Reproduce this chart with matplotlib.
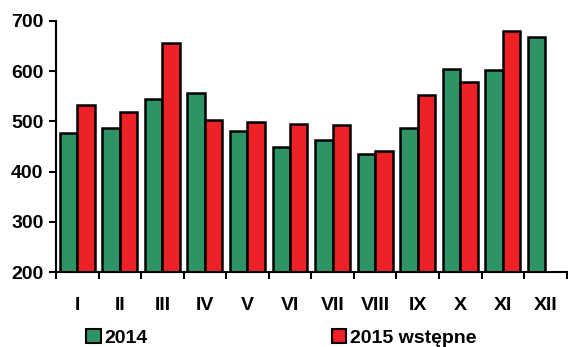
import matplotlib
matplotlib.use("Agg")
import matplotlib.pyplot as plt
import numpy as np
from matplotlib.patches import Patch

months = ["I", "II", "III", "IV", "V", "VI", "VII", "VIII", "IX", "X", "XI", "XII"]
v2014 = [477, 487, 544, 557, 480, 450, 463, 436, 486, 605, 602, 669]
v2015 = [533, 518, 656, 503, 498, 494, 493, 441, 553, 578, 680]
yticks = [200, 300, 400, 500, 600, 700]

green = "#2e9466"
red = "#ed2227"

plt.rcParams["font.family"] = ["Liberation Sans", "DejaVu Sans"]
plt.rcParams["font.weight"] = "bold"

fig = plt.figure(figsize=(5.68, 3.47), dpi=100)
ax = fig.add_axes([0.0986, 0.216, 0.899, 0.7235])

x = np.arange(len(months))
w = 0.41
ax.bar(x[:len(v2014)] - w / 2, np.array(v2014) - 200, bottom=200, width=w,
       color=green, edgecolor="black", linewidth=1.8, zorder=2)
ax.bar(x[:len(v2015)] + w / 2, np.array(v2015) - 200, bottom=200, width=w,
       color=red, edgecolor="black", linewidth=1.8, zorder=2)

ax.set_xlim(-0.5, len(months) - 0.5)
ax.set_ylim(200, 700)
ax.set_yticks(yticks)
ax.set_yticklabels([str(t) for t in yticks], fontsize=14, fontweight="bold")
ax.set_xticks(x)
ax.set_xticklabels(months, fontsize=14, fontweight="bold")
ax.set_xticks(np.arange(-0.5, len(months), 1.0), minor=True)
ax.tick_params(axis="x", which="major", length=0, pad=18)
ax.tick_params(axis="x", which="minor", length=5, width=1.5, direction="out")
ax.tick_params(axis="y", length=5, width=1.5, pad=4)

for s in ["top", "right"]:
    ax.spines[s].set_visible(False)
for s in ["left", "bottom"]:
    ax.spines[s].set_linewidth(1.5)

h1 = Patch(facecolor=green, edgecolor="black", linewidth=1.5)
h2 = Patch(facecolor=red, edgecolor="black", linewidth=1.5)
leg1 = fig.legend([h1], ["2014"], loc="center left", bbox_to_anchor=(0.152, 0.027),
                  frameon=False, prop={"size": 14, "weight": "bold"},
                  handlelength=0.75, handleheight=0.75, handletextpad=0.2,
                  borderpad=0, borderaxespad=0)
leg2 = fig.legend([h2], ["2015 wstępne"], loc="center left", bbox_to_anchor=(0.584, 0.027),
                  frameon=False, prop={"size": 14, "weight": "bold"},
                  handlelength=0.75, handleheight=0.75, handletextpad=0.2,
                  borderpad=0, borderaxespad=0)

fig.savefig("out.png", dpi=100)
